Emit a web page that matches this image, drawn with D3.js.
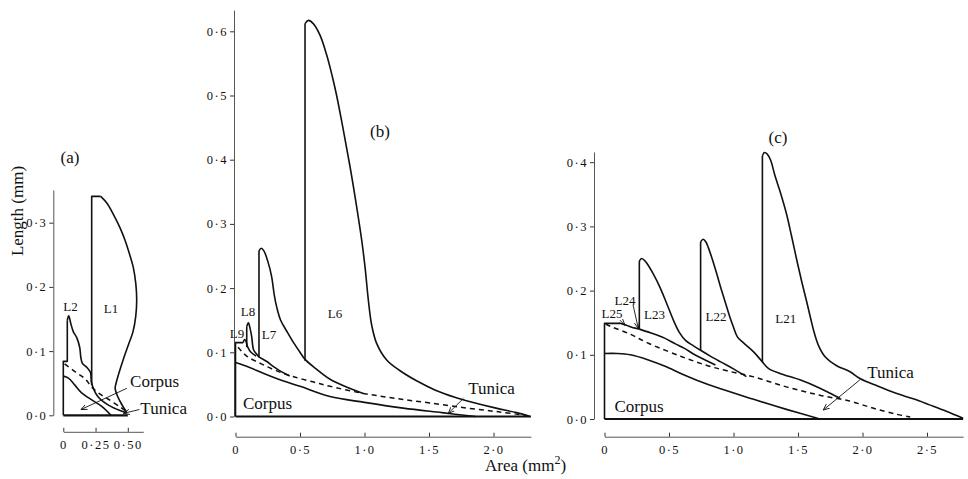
<!DOCTYPE html>
<html lang="en">
<head>
<meta charset="UTF-8">
<title>Leaf length against area</title>
<style>
  body { margin: 0; background: #fff; }
  svg { display: block; }
  text { font-family: "Liberation Serif", "DejaVu Serif", serif; fill: #111; }
</style>
<script src="https://d3js.org/d3.v7.min.js"></script>
</head>
<body>
<svg id="chart" width="968" height="479"></svg>
<script>
// ---- ticks ----
const aYTicks = [0, 0.1, 0.2, 0.3];
const aYLabels = ["0·0", "0·1", "0·2", "0·3"];
const aXTicks = [0, 0.25, 0.5];
const aXLabels = ["0", "0·25", "0·50"];
const bYTicks = [0, 0.1, 0.2, 0.3, 0.4, 0.5, 0.6];
const bYLabels = ["0·0", "0·1", "0·2", "0·3", "0·4", "0·5", "0·6"];
const bXTicks = [0, 0.5, 1, 1.5, 2];
const bXLabels = ["0", "0·5", "1·0", "1·5", "2·0"];
const cYTicks = [0, 0.1, 0.2, 0.3, 0.4];
const cYLabels = ["0·0", "0·1", "0·2", "0·3", "0·4"];
const cXTicks = [0, 0.5, 1, 1.5, 2, 2.5];
const cXLabels = ["0", "0·5", "1·0", "1·5", "2·0", "2·5"];

// ---- panel (a): [area mm2, length mm] ----
const aBase = [[0, 0], [0.5, 0]];
const aBox = [[0, 0], [0, 0.084], [0.031, 0.084], [0.031, 0.148]];
const aL2 = [[0.031, 0.148], [0.042, 0.155], [0.058, 0.143], [0.078, 0.13], [0.104, 0.121], [0.127, 0.106],
  [0.136, 0.09], [0.148, 0.081], [0.185, 0.074], [0.21, 0.067], [0.22, 0.05], [0.265, 0.03],
  [0.34, 0.017], [0.42, 0.009], [0.49, 0.004]];
const aL1Stem = [[0.22, 0.047], [0.22, 0.341], [0.29, 0.341]];
const aL1 = [[0.29, 0.341], [0.34, 0.33], [0.388, 0.313], [0.44, 0.292], [0.48, 0.272], [0.515, 0.25],
  [0.543, 0.23], [0.562, 0.205], [0.569, 0.18], [0.562, 0.155], [0.54, 0.13], [0.505, 0.11],
  [0.465, 0.087], [0.43, 0.065], [0.409, 0.05], [0.402, 0.042], [0.42, 0.03], [0.45, 0.018], [0.49, 0.005]];
const aDash = [[0.01, 0.08], [0.09, 0.068], [0.168, 0.057], [0.22, 0.044], [0.285, 0.033],
  [0.35, 0.025], [0.44, 0.013], [0.49, 0.006]];
const aCorpus = [[0, 0.061], [0.04, 0.058], [0.09, 0.047], [0.142, 0.035], [0.22, 0.024],
  [0.298, 0.014], [0.37, 0]];

// ---- panel (b) ----
const bBase = [[0, 0], [2.29, 0]];
const bBox = [[0, 0], [0, 0.115], [0.06, 0.115]];
const bL9 = [[0.06, 0.115], [0.07, 0.12], [0.08, 0.118], [0.095, 0.108], [0.12, 0.1], [0.16, 0.094]];
const bL8Stem = [[0.087, 0.108], [0.087, 0.14]];
const bL8 = [[0.087, 0.14], [0.1, 0.146], [0.112, 0.138], [0.125, 0.125], [0.14, 0.104], [0.16, 0.098],
  [0.182, 0.093], [0.24, 0.086], [0.3, 0.077], [0.345, 0.071], [0.42, 0.063]];
const bL7Stem = [[0.182, 0.092], [0.182, 0.258]];
const bL7 = [[0.182, 0.258], [0.2, 0.262], [0.22, 0.258], [0.25, 0.242], [0.28, 0.218], [0.3, 0.19],
  [0.32, 0.17], [0.35, 0.15], [0.4, 0.132], [0.45, 0.115], [0.5, 0.1], [0.539, 0.089], [0.62, 0.075],
  [0.733, 0.058], [0.86, 0.046], [0.99, 0.036]];
const bL6Stem = [[0.539, 0.087], [0.539, 0.612]];
const bL6 = [[0.539, 0.612], [0.565, 0.617], [0.603, 0.612], [0.655, 0.594], [0.707, 0.563], [0.75, 0.53],
  [0.784, 0.5], [0.836, 0.446], [0.888, 0.389], [0.939, 0.327], [0.978, 0.275], [1.004, 0.233],
  [1.03, 0.181], [1.056, 0.142], [1.094, 0.114], [1.172, 0.088], [1.27, 0.072], [1.4, 0.056],
  [1.55, 0.041], [1.7, 0.03], [1.82, 0.023], [2.02, 0.013], [2.18, 0.006], [2.283, 0]];
const bDash = [[0.02, 0.108], [0.087, 0.094], [0.2, 0.082], [0.32, 0.071], [0.45, 0.062], [0.6, 0.054],
  [0.733, 0.047], [0.99, 0.036], [1.25, 0.028], [1.508, 0.021], [1.8, 0.013], [2.05, 0.007], [2.28, 0.001]];
const bCorpus = [[0, 0.084], [0.1, 0.077], [0.22, 0.067], [0.35, 0.057], [0.5, 0.047], [0.733, 0.031],
  [1.0, 0.022], [1.3, 0.013], [1.6, 0.006], [1.86, 0]];

// ---- panel (c) ----
const cBase = [[0, 0], [2.78, 0]];
const cBox = [[0, 0], [0, 0.149], [0.12, 0.149]];
const cL25 = [[0.12, 0.149], [0.17, 0.146], [0.21, 0.143], [0.25, 0.141], [0.27, 0.14]];
const cL24 = [[0.27, 0.14], [0.36, 0.134], [0.466, 0.126], [0.55, 0.117], [0.62, 0.11], [0.7, 0.1],
  [0.78, 0.092], [0.86, 0.084]];
const cL23Stem = [[0.27, 0.14], [0.27, 0.246]];
const cL23 = [[0.27, 0.246], [0.288, 0.25], [0.31, 0.247], [0.327, 0.243], [0.378, 0.226], [0.43, 0.205],
  [0.482, 0.18], [0.534, 0.154], [0.58, 0.135], [0.63, 0.122], [0.69, 0.114], [0.745, 0.107],
  [0.82, 0.098], [0.9, 0.089], [1.0, 0.078], [1.1, 0.066]];
const cL22Stem = [[0.745, 0.107], [0.745, 0.276]];
const cL22 = [[0.745, 0.276], [0.766, 0.28], [0.785, 0.276], [0.805, 0.267], [0.837, 0.248], [0.869, 0.227],
  [0.908, 0.2], [0.947, 0.175], [0.975, 0.157], [0.998, 0.144], [1.03, 0.128], [1.076, 0.119],
  [1.154, 0.105], [1.224, 0.089], [1.27, 0.079], [1.36, 0.071], [1.515, 0.061], [1.67, 0.048],
  [1.75, 0.04], [1.826, 0.032]];
const cL21Stem = [[1.224, 0.089], [1.224, 0.41]];
const cL21 = [[1.224, 0.41], [1.24, 0.415], [1.26, 0.413], [1.288, 0.403], [1.32, 0.38], [1.36, 0.355],
  [1.41, 0.32], [1.45, 0.285], [1.49, 0.248], [1.53, 0.213], [1.567, 0.183], [1.6, 0.155],
  [1.625, 0.135], [1.66, 0.114], [1.71, 0.097], [1.8, 0.083], [1.9, 0.074], [1.98, 0.063],
  [2.12, 0.051], [2.26, 0.04], [2.4, 0.031], [2.52, 0.022], [2.65, 0.012], [2.78, 0.001]];
const cDash = [[0.01, 0.148], [0.05, 0.144], [0.2, 0.132], [0.34, 0.118], [0.6, 0.097], [0.8, 0.083],
  [0.95, 0.075], [1.15, 0.066], [1.41, 0.05], [1.67, 0.037], [1.9, 0.028], [2.08, 0.017],
  [2.25, 0.008], [2.37, 0.003]];
const cCorpus = [[0, 0.102], [0.1, 0.102], [0.2, 0.1], [0.34, 0.092], [0.47, 0.082], [0.6, 0.07],
  [0.72, 0.06], [0.9, 0.047], [1.15, 0.031], [1.41, 0.015], [1.67, 0]];

// ---- annotations [text, x, y, size] and leaders [x1, y1, x2, y2] in data units ----
const aText = [["(a)", 0.052, 0.402, 17], ["L2", 0.056, 0.169, 13], ["L1", 0.37, 0.167, 13],
  ["Corpus", 0.708, 0.052, 17], ["Tunica", 0.778, 0.01, 17]];
const aLeaders = [[0.492, 0.042, 0.137, 0.009], [0.59, 0.009, 0.466, 0.003]];
const bText = [["(b)", 1.12, 0.4436, 17], ["L9", 0.012, 0.13, 13], ["L8", 0.097, 0.163, 13],
  ["L7", 0.26, 0.127, 13], ["L6", 0.771, 0.161, 13], ["Corpus", 0.248, 0.021, 17], ["Tunica", 1.984, 0.044, 17]];
const bLeaders = [[1.766, 0.028, 1.65, 0.005]];
const cText = [["(c)", 1.345, 0.439, 17], ["L25", 0.058, 0.165, 13], ["L24", 0.159, 0.185, 13],
  ["L23", 0.388, 0.162, 13], ["L22", 0.864, 0.159, 13], ["L21", 1.405, 0.157, 13],
  ["Corpus", 0.267, 0.02, 17], ["Tunica", 2.217, 0.072, 17]];
const cLeaders = [[1.98, 0.061, 1.696, 0.014], [0.221, 0.178, 0.262, 0.141], [0.12, 0.154, 0.159, 0.146]];

const kx = 129, ky = 642;   // px per mm2, px per mm
const svg = d3.select("#chart");

svg.append("defs").append("marker")
  .attr("id", "arr").attr("viewBox", "0 -4 8 8")
  .attr("refX", 7).attr("refY", 0)
  .attr("markerWidth", 7).attr("markerHeight", 7)
  .attr("markerUnits", "userSpaceOnUse")
  .attr("orient", "auto")
  .append("path").attr("d", "M0,-3L7,0L0,3")
  .attr("fill", "none").attr("stroke", "#111").attr("stroke-width", 1);

const panels = [
  { x0: 63.3, y0: 415.3, xMax: 0.62, yMax: 0.351, yAxisDx: -10, xAxisDy: 16.5,
    yTicks: aYTicks, yLabels: aYLabels, xTicks: aXTicks, xLabels: aXLabels,
    stems: [aBox, aL1Stem], curves: [aL2, aL1, aCorpus], dashes: [aDash], base: aBase,
    text: aText, leaders: aLeaders },
  { x0: 235.5, y0: 416.5, xMax: 2.29, yMax: 0.633, yAxisDx: -1.5, xAxisDy: 20.2,
    yTicks: bYTicks, yLabels: bYLabels, xTicks: bXTicks, xLabels: bXLabels,
    stems: [bBox, bL8Stem, bL7Stem, bL6Stem], curves: [bL9, bL8, bL7, bL6, bCorpus], dashes: [bDash],
    base: bBase, text: bText, leaders: bLeaders },
  { x0: 604.5, y0: 419, xMax: 2.78, yMax: 0.416, yAxisDx: -10.5, xAxisDy: 17.7,
    yTicks: cYTicks, yLabels: cYLabels, xTicks: cXTicks, xLabels: cXLabels,
    stems: [cBox, cL23Stem, cL22Stem, cL21Stem], curves: [cL25, cL24, cL23, cL22, cL21, cCorpus],
    dashes: [cDash], base: cBase, text: cText, leaders: cLeaders }
];

panels.forEach(p => {
  const x = d3.scaleLinear().domain([0, p.xMax]).range([p.x0, p.x0 + p.xMax * kx]);
  const y = d3.scaleLinear().domain([0, p.yMax]).range([p.y0, p.y0 - p.yMax * ky]);
  const g = svg.append("g");

  const yAxis = g.append("g")
    .attr("transform", `translate(${p.x0 + p.yAxisDx},0)`)
    .call(d3.axisLeft(y).tickValues(p.yTicks).tickSizeInner(4).tickSizeOuter(0).tickPadding(2)
      .tickFormat((d, i) => p.yLabels[i]));
  const xAxis = g.append("g")
    .attr("transform", `translate(0,${p.y0 + p.xAxisDy})`)
    .call(d3.axisBottom(x).tickValues(p.xTicks).tickSizeInner(-4).tickSizeOuter(0).tickPadding(8)
      .tickFormat((d, i) => p.xLabels[i]));
  [yAxis, xAxis].forEach(a => {
    a.attr("font-family", null).attr("font-size", null);
    a.select(".domain").attr("stroke", "#555");
    a.selectAll(".tick line").attr("stroke", "#333");
    a.selectAll(".tick text").style("font-size", "12.5px").style("letter-spacing", "1.5px").attr("fill", "#111");
  });

  const straight = d3.line().x(d => x(d[0])).y(d => y(d[1]));
  const smooth = d3.line().x(d => x(d[0])).y(d => y(d[1])).curve(d3.curveCatmullRom.alpha(0.5));

  g.append("path").attr("d", straight(p.base)).attr("fill", "none")
    .attr("stroke", "#111").attr("stroke-width", 2.2);
  g.selectAll(".stem").data(p.stems).join("path").attr("class", "stem")
    .attr("d", straight).attr("fill", "none").attr("stroke", "#111").attr("stroke-width", 1.6)
    .attr("stroke-linejoin", "round");
  g.selectAll(".curve").data(p.curves).join("path").attr("class", "curve")
    .attr("d", smooth).attr("fill", "none").attr("stroke", "#111").attr("stroke-width", 1.6);
  g.selectAll(".dash").data(p.dashes).join("path").attr("class", "dash")
    .attr("d", smooth).attr("fill", "none").attr("stroke", "#111").attr("stroke-width", 1.5)
    .attr("stroke-dasharray", "5,4");

  g.selectAll(".leader").data(p.leaders).join("line").attr("class", "leader")
    .attr("x1", d => x(d[0])).attr("y1", d => y(d[1]))
    .attr("x2", d => x(d[2])).attr("y2", d => y(d[3]))
    .attr("stroke", "#111").attr("stroke-width", 0.9).attr("marker-end", "url(#arr)");

  g.selectAll(".lab").data(p.text).join("text").attr("class", "lab")
    .attr("x", d => x(d[1])).attr("y", d => y(d[2]))
    .attr("text-anchor", "middle").attr("dominant-baseline", "central")
    .style("font-size", d => d[3] + "px")
    .text(d => d[0]);
});

svg.append("text")
  .attr("transform", "translate(17,211) rotate(-90)")
  .attr("text-anchor", "middle").attr("dominant-baseline", "central")
  .style("font-size", "17px")
  .text("Length (mm)");

const areaLabel = svg.append("text")
  .attr("x", 485).attr("y", 471)
  .style("font-size", "17px");
areaLabel.append("tspan").text("Area (mm");
areaLabel.append("tspan").attr("dy", -7).style("font-size", "12px").text("2");
areaLabel.append("tspan").attr("dy", 7).text(")");
</script>
</body>
</html>
